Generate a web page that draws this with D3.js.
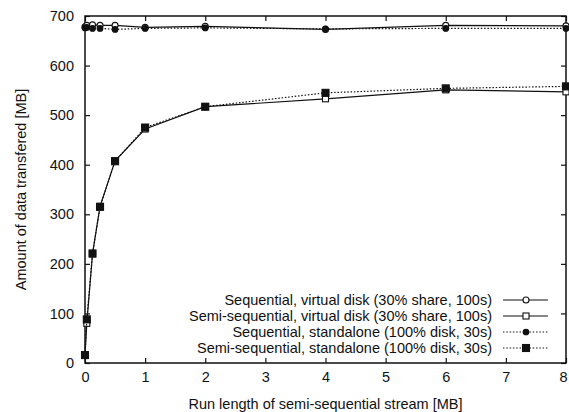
<!DOCTYPE html>
<html>
<head>
<meta charset="utf-8">
<script src="https://cdn.jsdelivr.net/npm/d3@7"></script>
<style>
body { margin: 0; background: #fff; }
svg text { font-family: "Liberation Sans", Arial, sans-serif; font-size: 14.5px; fill: #111; }
path.line { fill: none; stroke: #111; stroke-width: 1.2; }
path.dotted { stroke-dasharray: 1.5,1.8; }
</style>
</head>
<body>
<div id="chart"></div>
<script>
// run length [MB]
var xs = [0, 0.03, 0.125, 0.25, 0.5, 1, 2, 4, 6, 8];
var seqVirtual = [678, 681, 682, 681, 681, 677, 679, 673, 681, 680];
var semiVirtual = [16, 80, 220, 316, 408, 472, 517, 533, 551, 547];
var seqStandalone = [676, 677, 675, 675, 673, 675, 676, 674, 675, 675];
var semiStandalone = [16, 88, 221, 315, 407, 475, 517, 545, 554, 558];
var labels = [
  "Sequential, virtual disk (30% share, 100s)",
  "Semi-sequential, virtual disk (30% share, 100s)",
  "Sequential, standalone (100% disk, 30s)",
  "Semi-sequential, standalone (100% disk, 30s)"
];
var xTicks = [0, 1, 2, 3, 4, 5, 6, 7, 8];
var yTicks = [0, 100, 200, 300, 400, 500, 600, 700];

var series = [
  {vals: seqVirtual, dotted: false, marker: "circle", fill: false},
  {vals: semiVirtual, dotted: false, marker: "square", fill: false},
  {vals: seqStandalone, dotted: true, marker: "circle", fill: true},
  {vals: semiStandalone, dotted: true, marker: "square", fill: true}
];

var W = 569, H = 412;
var m = {left: 85, right: 3, top: 16, bottom: 49};

var svg = d3.select("#chart").append("svg")
  .attr("width", W).attr("height", H);

var x = d3.scaleLinear().domain([0, 8]).range([m.left, W - m.right]);
var y = d3.scaleLinear().domain([0, 700]).range([H - m.bottom, m.top]);

function drawMarker(g, type, fill, cx, cy) {
  if (type == "circle") {
    g.append("circle").attr("cx", cx).attr("cy", cy)
      .attr("r", fill ? 2.8 : 3)
      .attr("fill", fill ? "#111" : "#fff")
      .attr("stroke", "#111").attr("stroke-width", 1.1);
  } else {
    var s = fill ? 7 : 6;
    g.append("rect").attr("x", cx - s / 2).attr("y", cy - s / 2)
      .attr("width", s).attr("height", s)
      .attr("fill", fill ? "#111" : "#fff")
      .attr("stroke", "#111").attr("stroke-width", 1.1);
  }
}

// axes with inner ticks, mirrored
var tl = 5;
var axB = svg.append("g").attr("transform", "translate(0," + y(0) + ")")
  .call(d3.axisBottom(x).tickValues(xTicks).tickSize(-tl).tickPadding(9).tickFormat(d3.format("d")));
var axT = svg.append("g").attr("transform", "translate(0," + y(700) + ")")
  .call(d3.axisTop(x).tickValues(xTicks).tickSize(-tl).tickFormat(""));
var axL = svg.append("g").attr("transform", "translate(" + x(0) + ",0)")
  .call(d3.axisLeft(y).tickValues(yTicks).tickSize(-tl).tickPadding(11));
var axR = svg.append("g").attr("transform", "translate(" + x(8) + ",0)")
  .call(d3.axisRight(y).tickValues(yTicks).tickSize(-tl).tickFormat(""));
[axB, axT, axL, axR].forEach(function(a) {
  a.select(".domain").remove();
  a.selectAll("line").attr("stroke", "#111").attr("stroke-width", 1.2);
  a.selectAll("text").style("font-size", "14.5px").attr("fill", "#111")
    .attr("font-family", null);
});
// keep the last x label inside the window
axB.selectAll("text").filter(function(d) { return d == 8; }).attr("dx", "-3");

svg.append("rect")
  .attr("x", x(0)).attr("y", y(700))
  .attr("width", x(8) - x(0)).attr("height", y(0) - y(700))
  .attr("fill", "none").attr("stroke", "#111").attr("stroke-width", 1.5);

// axis titles
svg.append("text").attr("x", (x(0) + x(8)) / 2).attr("y", 409)
  .attr("text-anchor", "middle").text("Run length of semi-sequential stream [MB]");
svg.append("text").attr("transform", "translate(26," + ((y(0) + y(700)) / 2) + ") rotate(-90)")
  .attr("text-anchor", "middle").text("Amount of data transfered [MB]");

// series
var line = d3.line().x(function(d) { return x(d[0]); }).y(function(d) { return y(d[1]); });
series.forEach(function(s) {
  var pts = xs.map(function(v, i) { return [v, s.vals[i]]; });
  svg.append("path").datum(pts)
    .attr("class", s.dotted ? "line dotted" : "line")
    .attr("d", line);
  var g = svg.append("g");
  pts.forEach(function(p) { drawMarker(g, s.marker, s.fill, x(p[0]), y(p[1])); });
});

// legend
var lg = svg.append("g");
series.forEach(function(s, i) {
  var ly = 300 + i * 16;
  lg.append("text").attr("x", 492).attr("y", ly).attr("dy", "0.35em")
    .attr("text-anchor", "end").text(labels[i]);
  lg.append("line").attr("x1", 503).attr("x2", 548).attr("y1", ly).attr("y2", ly)
    .attr("stroke", "#111").attr("stroke-width", 1.2)
    .attr("stroke-dasharray", s.dotted ? "1.5,1.8" : null);
  drawMarker(lg, s.marker, s.fill, 526, ly);
});
</script>
</body>
</html>
